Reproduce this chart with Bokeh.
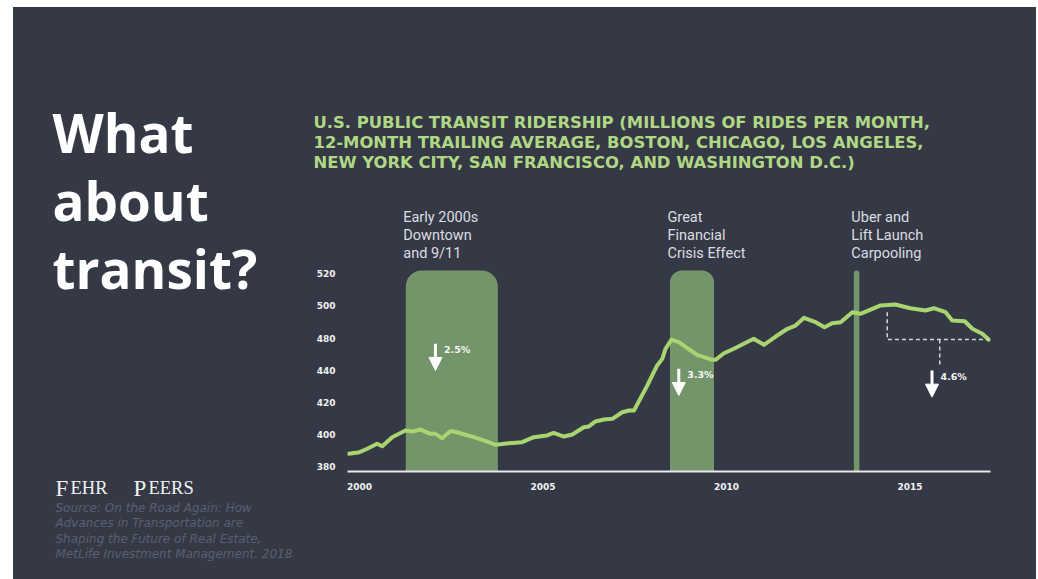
from bokeh.plotting import figure
from bokeh.models import (Range1d, FixedTicker, BoxAnnotation, Label, Arrow,
                          NormalHead, Spacer)
from bokeh.layouts import row, column
from bokeh.core.properties import value
from bokeh.embed import file_html
from bokeh.resources import INLINE

# ---------------- data ----------------
years = [1999.71, 2000.00, 2000.21, 2000.48, 2000.62, 2000.89, 2001.25, 2001.44,
         2001.66, 2001.93, 2002.07, 2002.25, 2002.48, 2002.66, 2003.11, 2003.39,
         2003.71, 2004.07, 2004.43, 2004.75, 2005.11, 2005.29, 2005.57, 2005.80,
         2006.11, 2006.25, 2006.43, 2006.66, 2006.89, 2007.16, 2007.34, 2007.48,
         2007.84, 2008.11, 2008.25, 2008.34, 2008.50, 2008.70, 2008.92, 2009.20,
         2009.61, 2009.70, 2009.93, 2010.20, 2010.47, 2010.74, 2011.02, 2011.34,
         2011.66, 2011.88, 2012.11, 2012.43, 2012.67, 2012.88, 2013.11, 2013.43,
         2013.65, 2014.20, 2014.60, 2015.01, 2015.42, 2015.65, 2015.97, 2016.15,
         2016.49, 2016.70, 2016.97, 2017.15]
ridership = [388.1, 389.1, 391.2, 394.3, 392.8, 398.4, 402.6, 401.9,
             403.2, 400.5, 400.5, 397.8, 402.2, 401.5, 398.4, 396.4,
             393.7, 394.7, 395.3, 398.4, 399.5, 401.1, 398.8, 400.1,
             404.6, 405.1, 408.2, 409.4, 409.8, 413.9, 415.0, 415.0,
             430.5, 443.0, 447.1, 453.4, 459.1, 457.5, 454.0, 449.6,
             446.5, 446.5, 450.6, 453.4, 456.5, 459.6, 455.8, 461.0,
             465.8, 467.8, 472.6, 469.9, 466.8, 469.3, 469.9, 476.1,
             475.1, 480.3, 480.9, 478.6, 477.2, 478.6, 476.1, 471.0,
             470.5, 465.8, 462.7, 459.0]

x_ticks = [2000, 2005, 2010, 2015]
y_ticks = [380, 400, 420, 440, 460, 480, 500]
y_tick_labels = ["380", "400", "420", "440", "480", "500", "520"]

event_lines = [["Early 2000s", "Downtown", "and 9/11"],
               ["Great", "Financial", "Crisis Effect"],
               ["Uber and", "Lift Launch", "Carpooling"]]
event_left = [2001.26, 2008.46, 2013.47]
event_right = [2003.77, 2009.66, 2013.62]
event_top = [502.0, 502.0, 502.0]

drop_labels = ["2.5%", "3.3%", "4.6%"]
drop_x = [2002.07, 2008.70, 2015.60]
drop_y_start = [456.5, 440.9, 439.9]
drop_y_end = [439.9, 424.3, 423.3]

dash_xs = [[2014.38, 2014.38, 2017.15], [2015.81, 2015.81]]
dash_ys = [[476.1, 459.1, 459.1], [459.1, 443.0]]

chart_title = ["U.S. PUBLIC TRANSIT RIDERSHIP (MILLIONS OF RIDES PER MONTH,",
               "12-MONTH TRAILING AVERAGE, BOSTON, CHICAGO, LOS ANGELES,",
               "NEW YORK CITY, SAN FRANCISCO, AND WASHINGTON D.C.)"]
headline = ["What", "about", "transit?"]
logo_text = ["F", "EHR", "P", "EERS"]
source_lines = ["Source: On the Road Again: How",
                "Advances in Transportation are",
                "Shaping the Future of Real Estate,",
                "MetLife Investment Management. 2018"]

# ---------------- styling / geometry ----------------
BG = "#353946"
LINE_GREEN = "#a8d570"
TITLE_GREEN = "#b0d884"
BAR_GREEN = "#74956a"

PAGE_L, PAGE_T, PAGE_R, PAGE_B = 13, 7, 1036, 579
SPLIT_X = 310
SPLIT_Y = 266
FL, FR, FB = 347, 990, 471
FT = SPLIT_Y
PX_PER_YEAR = 36.7
PX_PER_UNIT = 1.6085
X0 = 2000 - (359.0 - FL) / PX_PER_YEAR
X1 = X0 + (FR - FL) / PX_PER_YEAR
Y0 = 380 - (FB - 466.3) / PX_PER_UNIT
Y1 = Y0 + (FB - FT) / PX_PER_UNIT


def X(px):
    return X0 + (px - FL) / PX_PER_YEAR


def base_fig(**kw):
    f = figure(output_backend="svg", toolbar_location=None,
               styles={"background-color": BG}, **kw)
    f.background_fill_color = None
    f.border_fill_color = None
    f.outline_line_color = None
    f.grid.visible = False
    return f


# ---------------- left side panel ----------------
side = base_fig(width=SPLIT_X - PAGE_L, height=PAGE_B - PAGE_T,
                x_range=Range1d(PAGE_L, SPLIT_X),
                y_range=Range1d(PAGE_B, PAGE_T),
                x_axis_type=None, y_axis_type=None,
                min_border=0)
side.text(x=[52] * 3, y=[132, 200, 268], text=headline,
          text_font=value("Open Sans"), text_font_style="bold",
          text_font_size="53px", text_color="#ffffff",
          text_baseline="alphabetic", text_align="left")
side.text(x=[55, 70, 133, 148], y=[487.5] * 4, text=logo_text,
          text_font=value("Liberation Serif"),
          text_font_size=["23px", "18.5px", "23px", "18.5px"],
          text_color="#f2f2f2", text_baseline="alphabetic", text_align="left")
side.text(x=[55] * 4, y=[507, 522.5, 538, 553], text=source_lines,
          text_font=value("DejaVu Sans"), text_font_style="italic",
          text_font_size="12px", text_color="#5a5f6e",
          text_baseline="middle", text_align="left")

# ---------------- header (chart title + event labels) ----------------
header = base_fig(width=PAGE_R - SPLIT_X, height=SPLIT_Y - PAGE_T,
                  x_range=Range1d(X(SPLIT_X), X(PAGE_R)),
                  y_range=Range1d(SPLIT_Y, PAGE_T),
                  x_axis_type=None, y_axis_type=None,
                  min_border=0)
header.text(x=[X(313)] * 3, y=[122, 142, 162], text=chart_title,
            text_font=value("DejaVu Sans"), text_font_style="bold",
            text_font_size="16.4px", text_color=TITLE_GREEN,
            text_baseline="middle", text_align="left")
ev_x, ev_y, ev_t = [], [], []
for lines, l in zip(event_lines, event_left):
    for txt, py in zip(lines, [217, 235, 253]):
        ev_x.append(l - 2.5 / PX_PER_YEAR)
        ev_y.append(py)
        ev_t.append(txt)
header.text(x=ev_x, y=ev_y, text=ev_t, text_font=value("Roboto"),
            text_font_size="14.5px", text_color="#dcdde0",
            text_baseline="middle", text_align="left")

# ---------------- main chart ----------------
p = base_fig(width=PAGE_R - SPLIT_X, height=PAGE_B - SPLIT_Y,
             x_range=Range1d(X0, X1), y_range=Range1d(Y0, Y1),
             min_border_left=FL - SPLIT_X, min_border_right=PAGE_R - FR,
             min_border_top=FT - SPLIT_Y, min_border_bottom=PAGE_B - FB)

p.xaxis.ticker = FixedTicker(ticks=x_ticks)
p.xaxis.axis_line_color = "#e8e8e8"
p.xaxis.axis_line_width = 2
p.xaxis.major_tick_line_color = None
p.xaxis.minor_tick_line_color = None
p.xaxis.major_tick_out = 0
p.xaxis.major_tick_in = 0
p.xaxis.major_label_text_font = "DejaVu Sans"
p.xaxis.major_label_text_font_style = "bold"
p.xaxis.major_label_text_font_size = "9px"
p.xaxis.major_label_text_color = "#f2f2f2"
p.xaxis.major_label_standoff = 11

p.yaxis.ticker = FixedTicker(ticks=y_ticks)
p.yaxis.major_label_overrides = {t: l for t, l in zip(y_ticks, y_tick_labels)}
p.yaxis.axis_line_color = None
p.yaxis.major_tick_line_color = None
p.yaxis.minor_tick_line_color = None
p.yaxis.major_tick_out = 0
p.yaxis.major_tick_in = 0
p.yaxis.major_label_text_font = "DejaVu Sans"
p.yaxis.major_label_text_font_style = "bold"
p.yaxis.major_label_text_font_size = "9px"
p.yaxis.major_label_text_color = "#f2f2f2"
p.yaxis.major_label_standoff = 12

radii = [16, 12, 3]
for l, r, t, rad in zip(event_left, event_right, event_top, radii):
    p.add_layout(BoxAnnotation(left=l, right=r, bottom=Y0, top=t,
                               fill_color=BAR_GREEN, fill_alpha=1.0,
                               line_color=None, level="underlay",
                               border_radius=(rad, rad, 0, 0)))

p.line(years, ridership, line_color=LINE_GREEN, line_width=4,
       line_cap="round", line_join="round")

p.multi_line(dash_xs, dash_ys, line_color="#d4d6da", line_width=1.5,
             line_dash="4 3")

for lab, x, ys, ye in zip(drop_labels, drop_x, drop_y_start, drop_y_end):
    p.add_layout(Arrow(end=NormalHead(size=13, fill_color="white",
                                      line_color="white", line_width=1),
                       x_start=x, y_start=ys, x_end=x, y_end=ye,
                       line_color="white", line_width=3))
    p.add_layout(Label(x=x + 8.5 / PX_PER_YEAR, y=ys - 3.5, text=lab,
                       text_font="DejaVu Sans", text_font_style="bold",
                       text_font_size="9.5px", text_color="#f5f5f5",
                       text_baseline="middle", text_align="left"))

right_col = column(row(header), p)
layout = row(Spacer(width=PAGE_L, height=PAGE_B),
             column(Spacer(width=PAGE_R - PAGE_L, height=PAGE_T),
                    row(side, right_col)))
open("out.html", "w").write(file_html(layout, INLINE))
